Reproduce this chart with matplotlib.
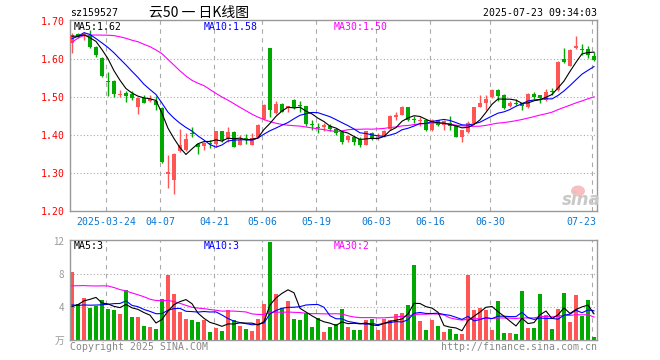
import numpy as np
import pandas as pd
import matplotlib
matplotlib.use("Agg")
import matplotlib.pyplot as plt
from matplotlib.patches import Ellipse

# ---------------- data ----------------
opens = [1.642, 1.666, 1.661, 1.664, 1.633, 1.603, 1.543, 1.543, 1.505, 1.510,
         1.508, 1.473, 1.497, 1.489, 1.489, 1.471, 1.298, 1.282, 1.357, 1.361,
         1.405, 1.376, 1.372, 1.379, 1.377, 1.411, 1.392, 1.408, 1.375, 1.391,
         1.375, 1.395, 1.443, 1.630, 1.458, 1.482, 1.472, 1.493, 1.478, 1.477,
         1.428, 1.422, 1.421, 1.424, 1.416, 1.407, 1.386, 1.396, 1.389, 1.375,
         1.405, 1.393, 1.396, 1.416, 1.449, 1.453, 1.473, 1.443, 1.438, 1.439,
         1.414, 1.439, 1.427, 1.431, 1.424, 1.395, 1.407, 1.433, 1.475, 1.486,
         1.500, 1.519, 1.506, 1.477, 1.485, 1.484, 1.474, 1.509, 1.505, 1.493,
         1.516, 1.518, 1.601, 1.582, 1.629, 1.627, 1.626, 1.609]
highs = [1.670, 1.670, 1.672, 1.677, 1.636, 1.605, 1.567, 1.546, 1.519, 1.517,
         1.517, 1.500, 1.505, 1.505, 1.502, 1.474, 1.348, 1.352, 1.417, 1.405,
         1.421, 1.378, 1.383, 1.386, 1.412, 1.412, 1.421, 1.410, 1.401, 1.403,
         1.405, 1.430, 1.482, 1.630, 1.490, 1.484, 1.478, 1.495, 1.491, 1.478,
         1.439, 1.432, 1.432, 1.430, 1.418, 1.410, 1.401, 1.398, 1.395, 1.412,
         1.407, 1.405, 1.414, 1.454, 1.462, 1.476, 1.474, 1.451, 1.449, 1.441,
         1.442, 1.440, 1.440, 1.450, 1.427, 1.414, 1.438, 1.475, 1.506, 1.506,
         1.522, 1.521, 1.509, 1.489, 1.495, 1.486, 1.511, 1.515, 1.507, 1.522,
         1.524, 1.595, 1.631, 1.626, 1.662, 1.640, 1.635, 1.620]
lows = [1.616, 1.655, 1.652, 1.630, 1.607, 1.553, 1.504, 1.500, 1.500, 1.488,
        1.492, 1.455, 1.484, 1.487, 1.467, 1.326, 1.260, 1.245, 1.355, 1.359,
        1.395, 1.350, 1.361, 1.366, 1.368, 1.383, 1.383, 1.368, 1.373, 1.377,
        1.373, 1.392, 1.440, 1.449, 1.456, 1.460, 1.462, 1.468, 1.462, 1.423,
        1.414, 1.405, 1.410, 1.410, 1.401, 1.377, 1.383, 1.375, 1.370, 1.373,
        1.386, 1.388, 1.395, 1.414, 1.440, 1.452, 1.436, 1.433, 1.423, 1.410,
        1.412, 1.425, 1.414, 1.414, 1.395, 1.381, 1.405, 1.432, 1.474, 1.467,
        1.498, 1.489, 1.468, 1.475, 1.480, 1.465, 1.472, 1.495, 1.486, 1.491,
        1.506, 1.516, 1.589, 1.581, 1.626, 1.611, 1.603, 1.596]
closes = [1.664, 1.660, 1.667, 1.633, 1.611, 1.556, 1.540, 1.509, 1.507, 1.502,
          1.497, 1.499, 1.486, 1.495, 1.480, 1.328, 1.302, 1.350, 1.375, 1.390,
          1.402, 1.370, 1.378, 1.377, 1.411, 1.386, 1.408, 1.370, 1.386, 1.389,
          1.392, 1.427, 1.480, 1.467, 1.482, 1.462, 1.477, 1.471, 1.476, 1.430,
          1.426, 1.420, 1.427, 1.415, 1.405, 1.381, 1.399, 1.383, 1.375, 1.412,
          1.389, 1.396, 1.411, 1.451, 1.452, 1.473, 1.439, 1.441, 1.441, 1.414,
          1.440, 1.427, 1.436, 1.423, 1.396, 1.414, 1.433, 1.474, 1.484, 1.496,
          1.519, 1.504, 1.471, 1.484, 1.483, 1.477, 1.509, 1.500, 1.498, 1.515,
          1.514, 1.594, 1.592, 1.625, 1.635, 1.626, 1.610, 1.598]
volumes = [8.2, 4.36, 5.08, 3.92, 4.16, 4.84, 3.76, 3.64, 3.16, 6.08,
           2.8, 2.8, 1.72, 1.6, 1.36, 4.92, 7.88, 5.6, 3.44, 2.56,
           2.44, 2.2, 2.44, 1.0, 1.48, 1.12, 3.64, 2.44, 1.72, 1.28,
           1.12, 2.56, 4.36, 11.8, 5.56, 3.88, 4.72, 2.56, 2.44, 3.28,
           1.6, 2.68, 1.0, 1.6, 1.92, 3.76, 1.6, 1.24, 1.24, 2.44,
           2.56, 1.24, 2.56, 2.44, 3.16, 3.28, 4.24, 9.04, 2.32, 1.24,
           2.44, 1.72, 1.0, 1.36, 0.76, 0.76, 7.84, 3.64, 3.88, 3.64,
           1.24, 4.72, 0.88, 0.88, 0.76, 5.92, 1.48, 1.48, 5.56, 3.04,
           1.36, 3.76, 5.68, 2.2, 5.44, 2.92, 4.84, 0.4]
# sessions before the visible window (only used for the moving averages)
prior_close = [1.33, 1.46, 1.60, 1.61, 1.56, 1.55, 1.54, 1.60, 1.62, 1.65,
               1.62, 1.69, 1.68, 1.74, 1.62, 1.76, 1.80, 1.83, 1.80, 1.74,
               1.60, 1.57, 1.68, 1.72, 1.67, 1.66, 1.65, 1.67, 1.66]
prior_vol = [4.0, 4.5, 5.0, 4.5, 4.5, 4.0, 9.5, 10.5, 11.0, 10.0,
             9.5, 9.0, 10.5, 6.0, 5.5, 7.0, 10.0, 9.5, 10.0, 9.4,
             5.0, 4.5, 4.2, 4.0, 4.5, 3.2, 2.8, 3.0, 3.0]

tick_idx = [6, 15, 24, 32, 41, 51, 60, 70, 87]
tick_labels = ["2025-03-24", "04-07", "04-21", "05-06", "05-19",
               "06-03", "06-16", "06-30", "07-23"]
price_ticks = [1.20, 1.30, 1.40, 1.50, 1.60, 1.70]
vol_ticks = [4, 8, 12]

code = "sz159527"
title = "云50 一 日K线图"
stamp = "2025-07-23 09:34:03"

# ---------------- styling ----------------
W, H = 660, 360
RED = "#ff5555"
GREEN = "#00a800"
GRID = "#aaaaaa"
MONO = "DejaVu Sans Mono"
FS = 7.1

def fx(x):
    return x / W

def fy(y):
    return 1 - y / H

n = len(closes)
idx = np.arange(n)
o = np.array(opens); c = np.array(closes)
hi = np.array(highs); lo = np.array(lows)
v = np.array(volumes)
up = c >= o
cols = np.where(up, RED, GREEN)

allc = pd.Series(prior_close + closes)
allv = pd.Series(prior_vol + volumes)
k = len(prior_close)
ma = {m: allc.rolling(m).mean().to_numpy()[k:] for m in (5, 10, 30)}
vma = {m: allv.rolling(m).mean().to_numpy()[k:] for m in (5, 10, 30)}
ma_cols = {5: "black", 10: "#0000ff", 30: "#ff00ff"}

fig = plt.figure(figsize=(W / 100, H / 100), dpi=100)
fig.patch.set_facecolor("white")

L, R = 70, 597
ax = fig.add_axes([fx(L), fy(211), fx(R - L), (211 - 20) / H])
axv = fig.add_axes([fx(L), fy(340), fx(R - L), (340 - 240) / H])

for a in (ax, axv):
    a.set_xlim(-0.33, 87.5)
    for s in a.spines.values():
        s.set_color("#999999")
        s.set_linewidth(1.0)
    a.set_xticks([])
    a.tick_params(axis="y", length=0)
    for t in tick_idx:
        a.axvline(t - 0.25, color=GRID, lw=0.8, ls=(0, (4, 4)), zorder=0)

# main panel
ax.set_ylim(1.2, 1.7035)
for p in price_ticks[1:-1]:
    ax.axhline(p, color=GRID, lw=0.8, ls=(0, (1, 2)), zorder=0)
ax.vlines(idx, lo, hi, colors=cols, lw=1.0, zorder=2)
body_h = np.maximum(np.abs(c - o), 0.0028)
body_b = np.where(np.abs(c - o) < 0.0028, (c + o) / 2 - 0.0014, np.minimum(c, o))
ax.bar(idx, body_h, bottom=body_b, width=0.7, color=cols, lw=0, zorder=3)
for m in (30, 10, 5):
    ax.plot(idx, ma[m], color=ma_cols[m], lw=0.8, zorder=4)
ax.set_yticks(price_ticks)
ax.set_yticklabels(["%.2f" % p for p in price_ticks], color="red",
                   fontsize=FS, family=MONO)
ax.tick_params(axis="y", pad=4)

# volume panel
axv.set_ylim(0, 12.08)
for p in vol_ticks[:-1]:
    axv.axhline(p, color=GRID, lw=0.8, ls=(0, (1, 2)), zorder=0)
axv.bar(idx, v, width=0.75, color=cols, lw=0, zorder=2)
for m in (30, 10, 5):
    axv.plot(idx, vma[m], color=ma_cols[m], lw=0.8, zorder=4)
axv.set_yticks([0] + vol_ticks)
axv.set_yticklabels(["万"] + [str(t) for t in vol_ticks], color="#999999",
                    fontsize=7, family=["Noto Sans CJK SC", "DejaVu Sans"])
axv.tick_params(axis="y", pad=4)

# date labels
for i, (t, lab) in enumerate(zip(tick_idx, tick_labels)):
    last = i == len(tick_idx) - 1
    ax.annotate(lab, xy=(t - 0.25, 0), xycoords=("data", "axes fraction"),
                xytext=(4 if last else 0, -11), textcoords="offset pixels",
                ha="right" if last else "center", va="center",
                fontsize=FS, family=MONO, color="#0a78d2")

# header
fig.text(fx(70), fy(13), code, fontsize=FS, family=MONO, color="black",
         ha="left", va="center")
fig.text(fx(199), fy(13), title, fontsize=10,
         family=["Noto Sans CJK SC", "DejaVu Sans"], color="black",
         ha="center", va="center")
fig.text(fx(597), fy(13), stamp, fontsize=FS, family=MONO, color="black",
         ha="right", va="center")

# MA legends
fig.text(fx(74), fy(27), "MA5:%.2f" % ma[5][-1], fontsize=FS, family=MONO,
         color="black", va="center")
fig.text(fx(204), fy(27), "MA10:%.2f" % ma[10][-1], fontsize=FS, family=MONO,
         color="#0000ff", va="center")
fig.text(fx(334), fy(27), "MA30:%.2f" % ma[30][-1], fontsize=FS, family=MONO,
         color="#ff00ff", va="center")
fig.text(fx(74), fy(246), "MA5:%d" % int(vma[5][-1]), fontsize=FS, family=MONO,
         color="black", va="center")
fig.text(fx(204), fy(246), "MA10:%d" % int(vma[10][-1]), fontsize=FS,
         family=MONO, color="#0000ff", va="center")
fig.text(fx(334), fy(246), "MA30:%d" % int(vma[30][-1]), fontsize=FS,
         family=MONO, color="#ff00ff", va="center")

# footer
fig.text(fx(70), fy(347), "Copyright 2025 SINA.COM", fontsize=FS, family=MONO,
         color="#888888", va="center")
fig.text(fx(597), fy(347), "http://finance.sina.com.cn", fontsize=FS,
         family=MONO, color="#888888", va="center", ha="right")

# sina watermark
fig.patches.append(Ellipse((fx(578), fy(191)), 14 / W, 11 / H,
                           transform=fig.transFigure, facecolor="#f6b0b0",
                           edgecolor="none", alpha=0.8, zorder=5))
fig.text(fx(581), fy(200), "sina", fontsize=12, style="italic", weight="bold",
         color="#c8c8c8", ha="center", va="center", zorder=6)

fig.savefig("out.png", dpi=100, facecolor="white")
